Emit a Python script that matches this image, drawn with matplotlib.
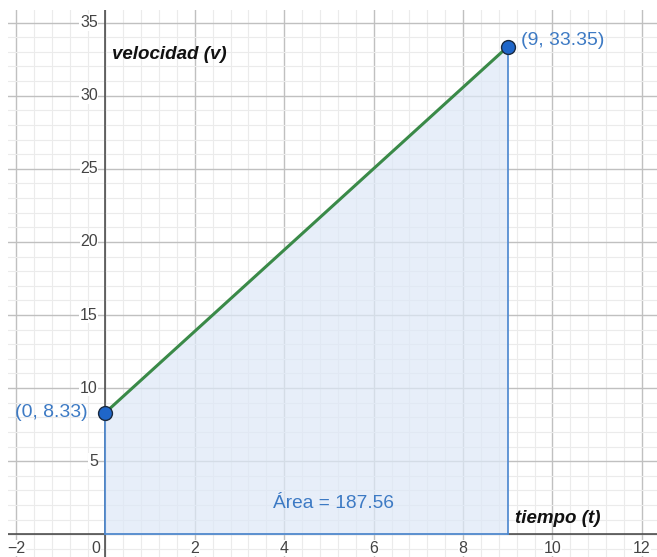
import numpy as np
import matplotlib.pyplot as plt
from matplotlib.ticker import MultipleLocator

# puntos de la recta velocidad-tiempo
t_pts = [0, 9]
v_pts = [8.33, 33.35]
area = 187.56

x_ticks = [-2, 0, 2, 4, 6, 8, 10, 12]
y_ticks = [5, 10, 15, 20, 25, 30, 35]

plt.rcParams['font.family'] = ['Liberation Sans', 'DejaVu Sans']

fig = plt.figure(figsize=(6.57, 5.57), dpi=100)
ax = fig.add_axes([8 / 657, 0, 649 / 657, 547 / 557])
ax.set_xlim(-2.18, 12.34)
ax.set_ylim(-1.55, 35.86)

# grid estilo geogebra
ax.xaxis.set_major_locator(MultipleLocator(2))
ax.xaxis.set_minor_locator(MultipleLocator(0.4))
ax.yaxis.set_major_locator(MultipleLocator(5))
ax.yaxis.set_minor_locator(MultipleLocator(1))
ax.grid(which='major', color='#c0c0c0', lw=1.0)
ax.grid(which='minor', color='#ebebeb', lw=0.8)
ax.set_axisbelow(True)
ax.tick_params(which='both', length=0, labelbottom=False, labelleft=False)
for s in ax.spines.values():
    s.set_visible(False)

# ejes
ax.axhline(0, color='#444444', lw=1.1, zorder=2)
ax.axvline(0, color='#444444', lw=1.1, zorder=2)

# etiquetas de los ejes
box = dict(facecolor='white', edgecolor='none', pad=0.5)
for xt in x_ticks:
    ax.text(xt - 0.22 if xt == 0 else xt, -0.95, str(xt).replace('-', '\u2212'),
            ha='center', va='center', fontsize=11.5, color='#444444', bbox=box)
for yt in y_ticks:
    ax.text(-0.17, yt, str(yt), ha='right', va='center',
            fontsize=11.5, color='#444444', bbox=box)

# area bajo la recta
ax.fill([t_pts[0], t_pts[1], t_pts[1], t_pts[0]], [0, 0, v_pts[1], v_pts[0]],
        color='#dde8f7', alpha=0.7, zorder=3)
ax.plot([t_pts[0], t_pts[0]], [0, v_pts[0]], color='#4a86cf', lw=1.2, zorder=4)
ax.plot([t_pts[1], t_pts[1]], [0, v_pts[1]], color='#4a86cf', lw=1.2, zorder=4)
ax.plot([t_pts[0], t_pts[1]], [0, 0], color='#4a86cf', lw=1.2, zorder=4)

ax.plot(t_pts, v_pts, color='#3a8a48', lw=2.2, zorder=5)
ax.scatter(t_pts, v_pts, s=100, color='#1f66c9', edgecolors='#1a2a40',
           linewidths=1.0, zorder=6)

ax.text(t_pts[1] + 0.29, v_pts[1] + 0.45, '(%g, %g)' % (t_pts[1], v_pts[1]),
        ha='left', va='center', fontsize=14, color='#3d7ac4')
ax.text(t_pts[0] - 0.4, v_pts[0], '(%g, %g)' % (t_pts[0], v_pts[0]),
        ha='right', va='center', fontsize=14, color='#3d7ac4')
ax.text(5.1, 2.1, 'Área = %.2f' % area, ha='center', va='center',
        fontsize=13.8, color='#3d7ac4')

ax.text(0.14, 32.8, 'velocidad (v)', ha='left', va='center', fontsize=13.5,
        fontweight='bold', fontstyle='italic', color='#111111')
ax.text(9.17, 1.1, 'tiempo (t)', ha='left', va='center', fontsize=13.5,
        fontweight='bold', fontstyle='italic', color='#111111')

fig.savefig('out.png', dpi=100)
